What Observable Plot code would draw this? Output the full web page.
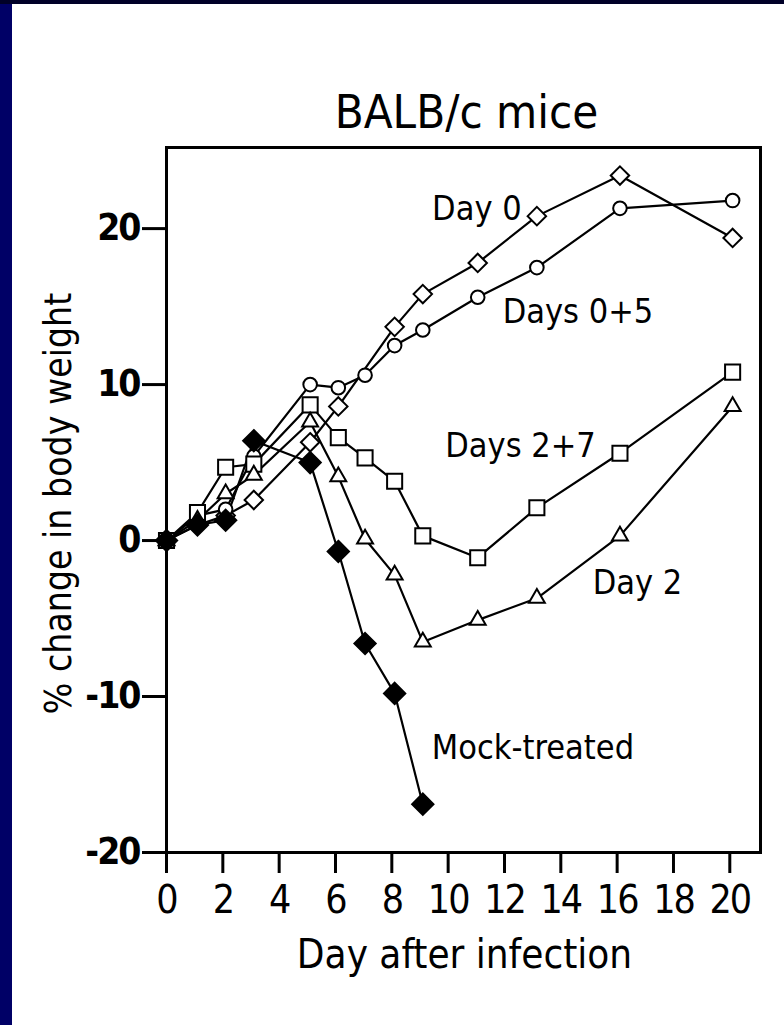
<!DOCTYPE html>
<html>
<head>
<meta charset="utf-8">
<script src="https://cdn.jsdelivr.net/npm/d3@7"></script>
<script src="https://cdn.jsdelivr.net/npm/@observablehq/plot@0.6"></script>
<style>
  html, body { margin: 0; padding: 0; }
  body { width: 784px; height: 1025px; position: relative; overflow: hidden; background: #000066; }
  #sheet { position: absolute; left: 12px; top: 4px; right: 0; bottom: 0; background: #ffffff; }
  #topbar { position: absolute; left: 0; top: 0; width: 784px; height: 4px; background: #000028; }
  #chart { position: absolute; left: 0; top: 0; }
</style>
</head>
<body>
<div id="topbar"></div>
<div id="sheet"></div>
<div id="chart"></div>
<script>
// ---- data ----
const days        = [0, 1.1, 2.1, 3.1, 5.1, 6.1, 7.05, 8.1, 9.1, 11.05, 13.15, 16.1, 20.1];
const day0        = [0, 1.0, 1.6, 2.6, 6.3, 8.6, null, 13.7, 15.8, 17.8, 20.8, 23.4, 19.4];
const days0plus5  = [0, 1.6, 2.0, 5.4, 10.0, 9.8, 10.6, 12.5, 13.5, 15.6, 17.5, 21.3, 21.8];
const days2plus7  = [0, 1.8, 4.7, 4.9, 8.7, 6.6, 5.3, 3.8, 0.3, -1.1, 2.1, 5.6, 10.8];
const day2        = [0, 1.3, 3.0, 4.2, 7.6, 4.1, 0.1, -2.2, -6.5, -5.1, -3.7, 0.3, 8.6];
const mockTreated = [0, 1.0, 1.3, 6.4, 5.0, -0.7, -6.6, -9.8, -16.9, null, null, null, null];

const xTicks = [0, 2, 4, 6, 8, 10, 12, 14, 16, 18, 20];
const yTicks = [-20, -10, 0, 10, 20];

const labelText = ["Day 0", "Days 0+5", "Days 2+7", "Day 2", "Mock-treated"];
const labelX    = [11.02, 14.61, 12.57, 16.72, 13.01];
const labelY    = [20.58, 13.93, 5.38, -3.4, -13.99];

const titleText  = "BALB/c mice";
const xAxisTitle = "Day after infection";
const yAxisTitle = "% change in body weight";

// ---- build tables ----
const series = [
  {name: "Day 0",        values: day0,        symbol: "diamond2", fill: "white", r: 8.3},
  {name: "Days 0+5",     values: days0plus5,  symbol: "circle",   fill: "white", r: 6.8},
  {name: "Days 2+7",     values: days2plus7,  symbol: "square2",  fill: "white", r: 9.6},
  {name: "Day 2",        values: day2,        symbol: "triangle2",fill: "white", r: 7.6},
  {name: "Mock-treated", values: mockTreated, symbol: "diamond2", fill: "black", r: 9.6}
];
const tables = series.map(s => ({
  ...s,
  rows: days.map((d, i) => ({day: d, value: s.values[i], series: s.name})).filter(r => r.value != null)
}));
const labels = labelText.map((t, i) => ({text: t, x: labelX[i], y: labelY[i]}));

const font = '"DejaVu Sans Condensed", "DejaVu Sans", sans-serif';

const marks = [];
tables.forEach(t => marks.push(Plot.line(t.rows, {x: "day", y: "value", stroke: "black", strokeWidth: 2.2})));
tables.forEach(t => marks.push(Plot.dot(t.rows, {x: "day", y: "value", symbol: () => t.symbol, r: t.r, fill: t.fill, stroke: "black", strokeWidth: 2})));

const chart = Plot.plot({
  width: 784,
  height: 1025,
  marginLeft: 166,
  marginRight: 24,
  marginTop: 147,
  marginBottom: 173,
  style: {fontFamily: font, fontStretch: "condensed", background: "transparent", color: "black", overflow: "visible"},
  x: {domain: [0, 21.09]},
  y: {domain: [-20, 25.2]},
  symbol: {type: "identity"},
  marks: [
    Plot.frame({stroke: "black", strokeWidth: 3}),
    Plot.axisX({ticks: xTicks, tickSize: 21, tickPadding: 12, strokeWidth: 3, fontSize: 39, label: null, tickFormat: d => String(d)}),
    Plot.axisY({ticks: yTicks, tickSize: 24, tickPadding: 3, strokeWidth: 3, fontSize: 37, fontWeight: "bold", label: null, tickFormat: d => d < 0 ? "-" + Math.abs(d) : String(d)}),
    ...marks,
    Plot.text(labels, {x: "x", y: "y", text: "text", fontSize: 34, lineAnchor: "bottom", textAnchor: "middle", fill: "black"}),
    Plot.text([titleText], {text: d => d, frameAnchor: "top", textAnchor: "middle", dx: 3, dy: -20, lineAnchor: "bottom", fontSize: 47, fill: "black"}),
    Plot.text([xAxisTitle], {text: d => d, frameAnchor: "bottom", textAnchor: "middle", dx: 1, dy: 115, lineAnchor: "bottom", fontSize: 40, fill: "black"}),
    Plot.text([yAxisTitle], {text: d => d, frameAnchor: "left", textAnchor: "middle", dx: -96, dy: 3.5, rotate: -90, lineAnchor: "bottom", fontSize: 37, fill: "black"})
  ]
});
// tighten digit spacing of tick labels to mimic the narrow original lettering
d3.select(chart).selectAll('[aria-label="x-axis tick label"] text').attr("letter-spacing", "-2");
d3.select(chart).selectAll('[aria-label="y-axis tick label"] text').attr("letter-spacing", "-2");
document.getElementById("chart").appendChild(chart);
</script>
</body>
</html>
